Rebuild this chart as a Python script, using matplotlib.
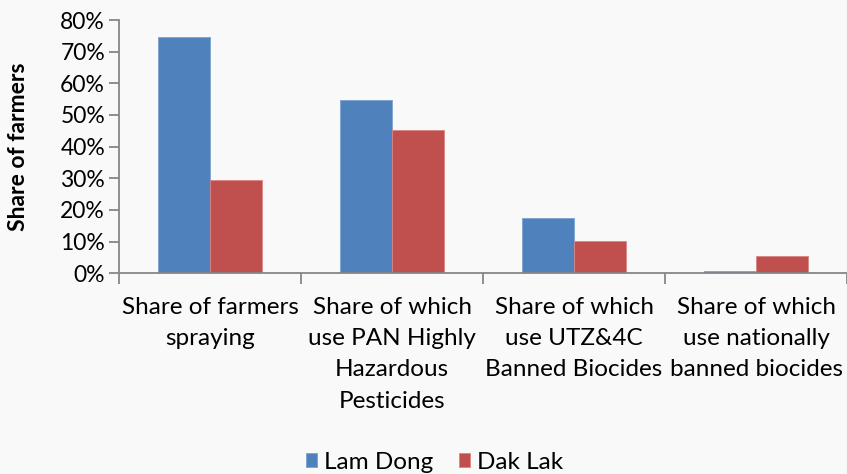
import matplotlib
matplotlib.use("Agg")
import matplotlib.pyplot as plt
import numpy as np
from matplotlib.ticker import PercentFormatter, FixedLocator

categories = ["Share of farmers\nspraying",
              "Share of which\nuse PAN Highly\nHazardous\nPesticides",
              "Share of which\nuse UTZ&4C\nBanned Biocides",
              "Share of which\nuse nationally\nbanned biocides"]
lam_dong = [74.6, 54.8, 17.4, 0.6]
dak_lak = [29.6, 45.4, 10.1, 5.5]
series_names = ["Lam Dong", "Dak Lak"]
yticks = [0, 10, 20, 30, 40, 50, 60, 70, 80]

plt.rcParams['font.family'] = ['Lato', 'DejaVu Sans']
bg = "#F9F9F9"
fig = plt.figure(figsize=(8.47, 4.74), dpi=100, facecolor=bg)
ax = fig.add_axes([0.1405, 0.4234, 0.8595, 0.5344], facecolor=bg)

x = np.arange(len(categories))
w = 1 / 3.5
ax.bar(x - w / 2, lam_dong, w, color="#4F81BD", edgecolor="#7FA3D1", linewidth=0.6, label=series_names[0])
ax.bar(x + w / 2, dak_lak, w, color="#C0504D", edgecolor="#D98583", linewidth=0.6, label=series_names[1])

ax.set_xlim(-0.5, len(categories) - 0.5)
ax.set_ylim(0, 80)
ax.set_yticks(yticks)
ax.yaxis.set_major_formatter(PercentFormatter(decimals=0))
ax.set_xticks(x)
ax.set_xticklabels(categories, fontsize=17.5, linespacing=1.6)
ax.xaxis.set_minor_locator(FixedLocator(np.arange(-0.5, len(categories), 1.0)))
ax.tick_params(axis='x', which='major', length=0, pad=17)
ax.tick_params(axis='x', which='minor', length=8, width=1.3, color="#868686", direction='out')
ax.tick_params(axis='y', length=7, width=1.3, color="#868686", labelsize=16.5, pad=3)

for s in ['top', 'right']:
    ax.spines[s].set_visible(False)
for s in ['left', 'bottom']:
    ax.spines[s].set_color("#868686")
    ax.spines[s].set_linewidth(1.3)

ax.set_ylabel("Share of farmers", fontsize=16.5, fontweight='bold')
ax.yaxis.set_label_coords(-0.123, 0.5)

leg = fig.legend(loc='center', bbox_to_anchor=(0.513, 0.025), ncol=2, frameon=False,
                 fontsize=17.5, handlelength=0.45, handleheight=0.45, handletextpad=0.3,
                 columnspacing=1.05)

fig.savefig("out.png", dpi=100, facecolor=bg)
